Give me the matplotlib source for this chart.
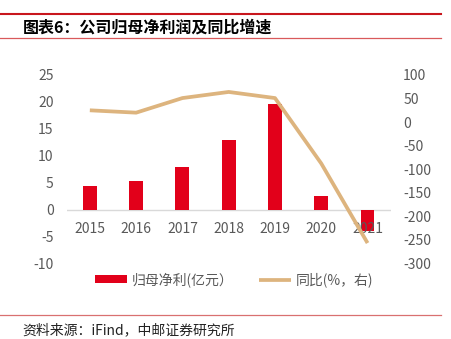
import matplotlib
matplotlib.use("Agg")
import matplotlib.pyplot as plt
from matplotlib.lines import Line2D
import numpy as np

plt.rcParams['font.family'] = ['Noto Sans CJK SC', 'DejaVu Sans']
plt.rcParams['axes.unicode_minus'] = False

years = ['2015', '2016', '2017', '2018', '2019', '2020', '2021']
net_profit = [4.3, 5.3, 7.9, 13.0, 19.7, 2.5, -4.0]
yoy_growth = [25, 20, 51, 64, 51, -88, -257]
left_ticks = [25, 20, 15, 10, 5, 0, -5, -10]
right_ticks = [100, 50, 0, -50, -100, -150, -200, -250, -300]
title_text = '图表6：公司归母净利润及同比增速'
source_text = '资料来源：iFind，中邮证券研究所'
legend_labels = ['归母净利(亿元）', '同比(%，右)']

BAR_COLOR = '#E2001A'
LINE_COLOR = '#DDB47E'
TICK_COLOR = '#595959'

W, H = 452, 339
fig = plt.figure(figsize=(W / 100, H / 100), dpi=100)

left_px, right_px = 66.7, 390.7
top_px, bot_px = 75.0, 263.3
ax = fig.add_axes([left_px / W, 1 - bot_px / H, (right_px - left_px) / W, (bot_px - top_px) / H])
ax2 = ax.twinx()

x = np.arange(len(years))
bars = ax.bar(x, net_profit, width=0.30, color=BAR_COLOR, zorder=2)
ax.axhline(0, color='#D9D9D9', lw=1.0, zorder=1)
ax.set_xlim(-0.5, len(years) - 0.5)
ax.set_ylim(-10, 25)
ax.set_yticks(left_ticks)
ax.set_yticklabels([str(t) for t in left_ticks])
ax.set_xticks([])
for xi, lab in zip(x, years):
    ax.annotate(lab, xy=(xi, 0), xytext=(0, -14.3), textcoords='offset points',
                ha='center', va='center', fontsize=10, color=TICK_COLOR, zorder=3)

line, = ax2.plot(x, yoy_growth, color=LINE_COLOR, lw=2.7, solid_capstyle='butt', zorder=4)
ax2.set_ylim(-300, 100)
ax2.set_yticks(right_ticks)
ax2.set_yticklabels([str(t) for t in right_ticks])

for a in (ax, ax2):
    for s in a.spines.values():
        s.set_visible(False)
    a.tick_params(axis='y', length=0, labelsize=10, labelcolor=TICK_COLOR)
    a.patch.set_visible(False)
ax.tick_params(axis='y', pad=9.5)
ax2.tick_params(axis='y', pad=9.0)

leg = fig.legend([bars, line], legend_labels, loc='center', bbox_to_anchor=(0.518, 1 - 279.5 / H),
                 ncol=2, frameon=False, fontsize=10, handlelength=2.3, handleheight=0.45,
                 handletextpad=0.3, columnspacing=1.9, labelcolor=TICK_COLOR)

# decorative lines
fig.add_artist(Line2D([0, 441 / W], [1 - 14.3 / H] * 2, color='#C8161D', lw=1.5))
fig.add_artist(Line2D([0, 441 / W], [1 - 38.3 / H] * 2, color='#D9595B', lw=0.9))
fig.add_artist(Line2D([0, 441 / W], [1 - 315 / H] * 2, color='#D97070', lw=0.9))

fig.text(23 / W, 1 - 27.5 / H, title_text, fontsize=11.5, fontweight='bold', color='black',
         ha='left', va='center')
fig.text(22 / W, 1 - 330.5 / H, source_text, fontsize=10, color='#222222',
         ha='left', va='center')

fig.savefig('out.png', dpi=100)
